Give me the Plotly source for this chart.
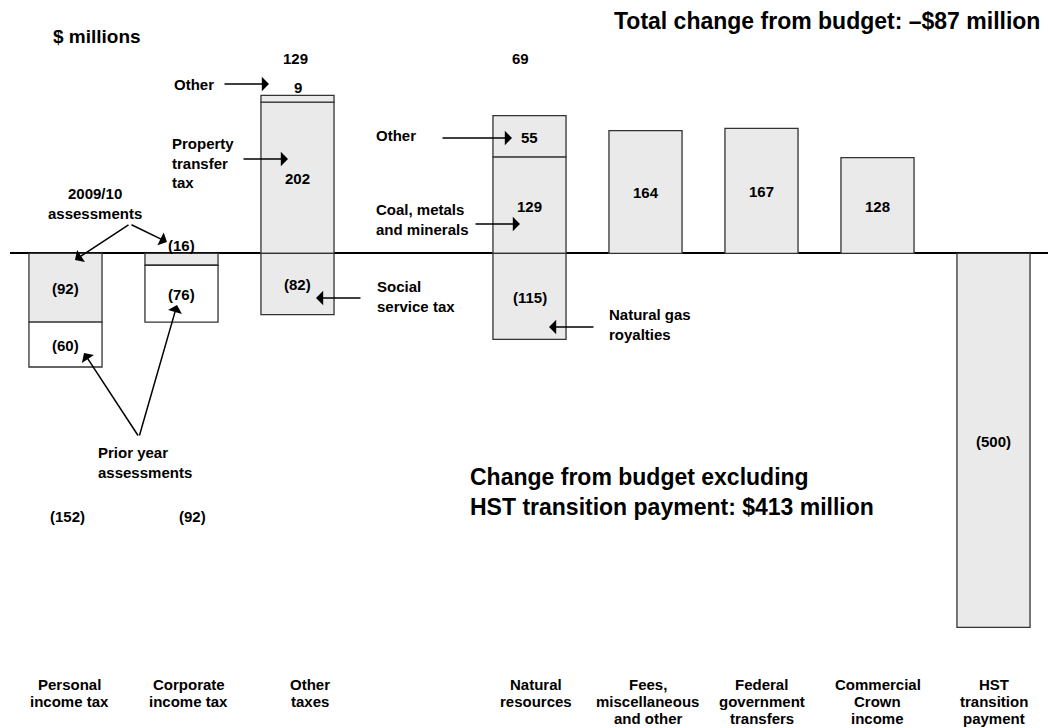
import plotly.graph_objects as go

# ---------------------------------------------------------------------------
# Data ($ millions, change from budget)
# ---------------------------------------------------------------------------
categories = [
    "Personal income tax", "Corporate income tax", "Other taxes", " ",
    "Natural resources", "Fees, miscellaneous and other",
    "Federal government transfers", "Commercial Crown income",
    "HST transition payment",
]
category_labels = [
    ["Personal", "income tax"], ["Corporate", "income tax"], ["Other", "taxes"], [],
    ["Natural", "resources"], ["Fees,", "miscellaneous", "and other"],
    ["Federal", "government", "transfers"], ["Commercial", "Crown", "income"],
    ["HST", "transition", "payment"],
]

income_tax_cats = ["Personal income tax", "Corporate income tax"]
assessments_2009_10 = [-92, -16]
prior_year_assessments = [-60, -76]

other_taxes_cat = ["Other taxes"]
property_transfer_tax = [202]
other_taxes_other = [9]
social_service_tax = [-82]

resources_cat = ["Natural resources"]
coal_metals_minerals = [129]
resources_other = [55]
natural_gas_royalties = [-115]

single_cats = ["Fees, miscellaneous and other", "Federal government transfers",
               "Commercial Crown income", "HST transition payment"]
single_values = [164, 167, 128, -500]

hst_category = "HST transition payment"

# ---------------------------------------------------------------------------
# Styling / layout constants
# ---------------------------------------------------------------------------
W, H = 1048, 728
ML = 10                      # left margin (zero line starts here)
PW = W - ML
FONT = "Liberation Sans, Arial, Helvetica, sans-serif"
GRAY = "#eaeaea"
EDGE = "#333333"
X_RANGE = [-0.4784, 8.4698]
Y_RANGE = [-634.6, 338.6]
TOTAL_TOP = 261              # value-axis level of totals shown above bars
TOTAL_BOTTOM = -352          # value-axis level of totals shown below bars
SMALL_SEGMENT = 25           # segments shorter than this get their label above
LABEL_TOP = 684              # pixel row of the first line of category labels
LABEL_STEP = 17              # line spacing of category labels

segments = [
    (income_tax_cats, assessments_2009_10, GRAY),
    (income_tax_cats, prior_year_assessments, "white"),
    (other_taxes_cat, property_transfer_tax, GRAY),
    (other_taxes_cat, other_taxes_other, GRAY),
    (other_taxes_cat, social_service_tax, GRAY),
    (resources_cat, coal_metals_minerals, GRAY),
    (resources_cat, resources_other, GRAY),
    (resources_cat, natural_gas_royalties, GRAY),
    (single_cats, single_values, GRAY),
]


def fmt(v):
    return f"({abs(v)})" if v < 0 else f"{v}"


def px(X):
    return (X - ML) / PW


def py(Y):
    return 1 - Y / H


fig = go.Figure()
annotations = []
pos_stack = {c: 0 for c in categories}
neg_stack = {c: 0 for c in categories}
totals = {}
seg_count = {}

for cats, vals, colour in segments:
    fig.add_trace(go.Bar(
        x=cats, y=vals, width=0.63,
        marker=dict(color=colour, line=dict(color=EDGE, width=1.3)),
        hoverinfo="skip", showlegend=False,
    ))
    for c, v in zip(cats, vals):
        if v >= 0:
            lo, hi = pos_stack[c], pos_stack[c] + v
            pos_stack[c] = hi
        else:
            lo, hi = neg_stack[c] + v, neg_stack[c]
            neg_stack[c] = lo
        totals[c] = totals.get(c, 0) + v
        seg_count[c] = seg_count.get(c, 0) + 1
        if abs(v) < SMALL_SEGMENT:
            annotations.append(dict(x=c, y=hi, xref="x", yref="y", text=fmt(v),
                                    showarrow=False, yshift=8, yanchor="middle"))
        else:
            annotations.append(dict(x=c, y=(lo + hi) / 2, xref="x", yref="y",
                                    text=fmt(v), showarrow=False, yshift=-1,
                                    yanchor="middle"))

# Category totals for stacked columns
total_shift = {"Personal income tax": 2, "Corporate income tax": 11,
               "Other taxes": -2, "Natural resources": -9}
for c in categories:
    if seg_count.get(c, 0) > 1:
        t = totals[c]
        annotations.append(dict(x=c, y=TOTAL_TOP if t > 0 else TOTAL_BOTTOM,
                                xref="x", yref="y", text=fmt(t), showarrow=False,
                                yanchor="middle", xshift=total_shift.get(c, 0)))

# Category labels along the bottom, one line at a time
label_shift = [4, 7, 12, 0, 6, 2, 0, 0, 0]
for c, lines, sh in zip(categories, category_labels, label_shift):
    for i, line in enumerate(lines):
        annotations.append(dict(x=c, y=py(LABEL_TOP + i * LABEL_STEP), xref="x",
                                yref="paper", text=line, showarrow=False,
                                xanchor="center", yanchor="middle", xshift=sh,
                                font=dict(size=15)))

# Callout texts
callouts = [
    ("Other", 172, 84, "left"),
    ("Property<br>transfer<br>tax", 170, 163, "left"),
    ("2009/10<br>assessments", 95, 203, "center"),
    ("Social<br>service tax", 375, 296, "left"),
    ("Prior year<br>assessments", 96, 462, "left"),
    ("Other", 374, 135, "left"),
    ("Coal, metals<br>and minerals", 374, 219, "left"),
    ("Natural gas<br>royalties", 607, 324, "left"),
]
for text, X, Y, anchor in callouts:
    annotations.append(dict(x=px(X), y=py(Y), xref="paper", yref="paper",
                            text=text, showarrow=False, xanchor=anchor,
                            align=anchor, yanchor="middle"))

# Arrows: (tail x, tail y, head x, head y) in pixels
arrows = [
    (223, 84, 269, 84),
    (242, 159, 288, 159),
    (130, 224, 75, 260),
    (130, 224, 167, 242),
    (362, 298, 316, 298),
    (139, 437, 84, 353),
    (139, 437, 177, 305),
    (441, 138, 512, 138),
    (474, 224, 520, 224),
    (595, 327, 549, 327),
]
for tx, ty, hx, hy in arrows:
    annotations.append(dict(x=px(hx), y=py(hy), xref="paper", yref="paper",
                            ax=tx - hx, ay=ty - hy, text="", showarrow=True,
                            arrowhead=1, arrowsize=1.6, arrowwidth=1.5,
                            arrowcolor="black", standoff=0))

# Headline texts
grand_total = sum(totals.values())
excl_hst = grand_total - totals[hst_category]
annotations.append(dict(x=px(97), y=py(36), xref="paper", yref="paper",
                        text="$ millions", showarrow=False, xanchor="center",
                        yanchor="middle", font=dict(size=19)))
annotations.append(dict(x=px(1042), y=py(21), xref="paper", yref="paper",
                        text=f"Total change from budget: \u2013${abs(grand_total)} million",
                        showarrow=False, xanchor="right", yanchor="middle",
                        font=dict(size=23)))
annotations.append(dict(x=px(468), y=py(492), xref="paper", yref="paper",
                        text=("Change from budget excluding<br>"
                              f"HST transition payment: ${excl_hst} million"),
                        showarrow=False, xanchor="left", align="left",
                        yanchor="middle", font=dict(size=23)))

fig.update_layout(
    width=W, height=H,
    margin=dict(l=ML, r=0, t=0, b=0),
    paper_bgcolor="white", plot_bgcolor="white",
    barmode="relative",
    font=dict(family=FONT, size=15, color="black", weight="bold"),
    annotations=annotations,
    xaxis=dict(type="category", categoryorder="array", categoryarray=categories,
               range=X_RANGE, showticklabels=False, showgrid=False,
               zeroline=False, showline=False, ticks="", fixedrange=True),
    yaxis=dict(range=Y_RANGE, showticklabels=False, showgrid=False,
               zeroline=True, zerolinecolor="black", zerolinewidth=1.5,
               showline=False, ticks="", fixedrange=True),
)

fig.write_html("out.html", config={"displayModeBar": False})
